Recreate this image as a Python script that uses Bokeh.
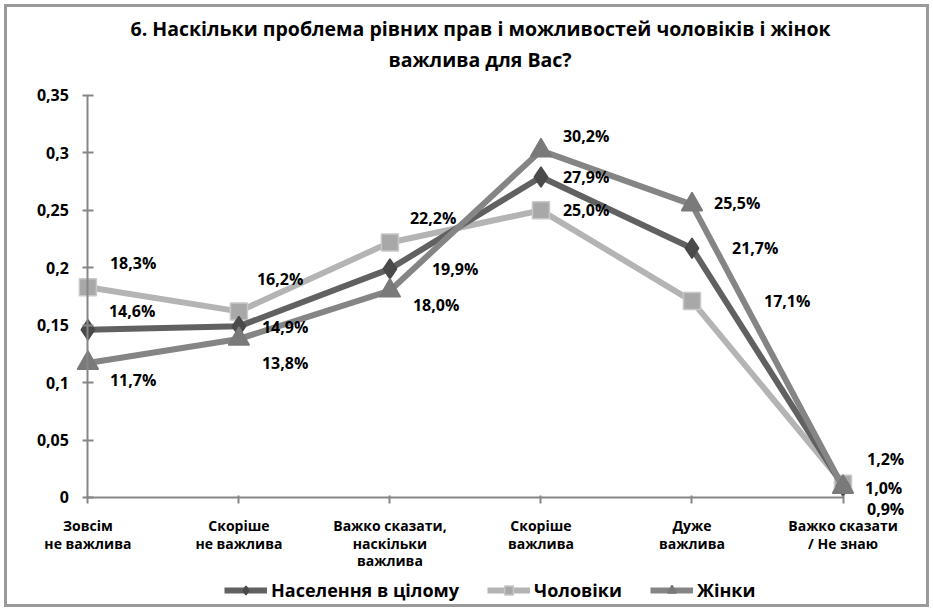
from bokeh.plotting import figure
from bokeh.models import ColumnDataSource, Legend, LegendItem, FixedTicker, Title, Range1d
from bokeh.core.properties import value
from bokeh.embed import file_html
from bokeh.resources import INLINE

# ---- data ----
categories = [
    "Зовсім\nне важлива",
    "Скоріше\nне важлива",
    "Важко сказати,\nнаскільки\nважлива",
    "Скоріше\nважлива",
    "Дуже\nважлива",
    "Важко сказати\n/ Не знаю",
]
population = [0.146, 0.149, 0.199, 0.279, 0.217, 0.010]
men = [0.183, 0.162, 0.222, 0.250, 0.171, 0.012]
women = [0.117, 0.138, 0.180, 0.302, 0.255, 0.009]
series_names = ["Населення в цілому", "Чоловіки", "Жінки"]
y_ticks = [0, 0.05, 0.1, 0.15, 0.2, 0.25, 0.3, 0.35]
y_tick_labels = ["0", "0,05", "0,1", "0,15", "0,2", "0,25", "0,3", "0,35"]
title_line1 = "6. Наскільки проблема рівних прав і можливостей чоловіків і жінок"
title_line2 = "важлива для Вас?"

# ---- label placement (screen px, right / down) ----
pop_dx = [21, 23, 42, 22, 40, 22]
pop_dy = [-19, 1, 0, 0, 0, 2]
men_dx = [22, 18, 20, 22, 72, 24]
men_dy = [-24, -32, -24, 0, 0, -25]
women_dx = [22, 23, 23, 22, 22, 24]
women_dy = [17, 24, 14, -15, -2, 22]

FONT = "Open Sans"

x_idx = list(range(len(categories)))

# the frame covers the whole drawing area; both axes sit at 0 inside it
p = figure(
    frame_width=885, frame_height=532,
    x_range=Range1d(-0.38, 5.48), y_range=Range1d(-0.0932, 0.37),
    output_backend="svg", toolbar_location=None,
    min_border_left=23, min_border_right=11, min_border_top=65, min_border_bottom=0,
)
p.styles = {"border": "3px solid #9a9a9a", "margin": "4px"}
p.outline_line_color = None
p.xgrid.visible = False
p.ygrid.visible = False
p.background_fill_color = "white"
p.border_fill_color = "white"

# titles (left aligned with offsets so both lines are centred at the same x)
t2 = Title(text=title_line2, align="left", text_font=FONT, text_font_size="19.5px",
           text_font_style="bold", text_color="black", standoff=0, offset=358)
t1 = Title(text=title_line1, align="left", text_font=FONT, text_font_size="19.5px",
           text_font_style="bold", text_color="black", standoff=4, offset=100)
p.add_layout(t2, "above")
p.add_layout(t1, "above")

# axes
xa = p.xaxis[0]
xa.fixed_location = 0
xa.ticker = FixedTicker(ticks=x_idx)
xa.major_label_overrides = {i: c for i, c in zip(x_idx, categories)}
xa.bounds = (0, 5)
xa.axis_line_color = "#868686"
xa.axis_line_width = 2
xa.major_tick_line_color = "#868686"
xa.major_tick_line_width = 2
xa.major_tick_in = 2
xa.major_tick_out = 6
xa.minor_tick_line_color = None
xa.major_label_standoff = 13
xa.major_label_text_font = FONT
xa.major_label_text_font_size = "14px"
xa.major_label_text_font_style = "bold"
xa.major_label_text_color = "black"
xa.major_label_text_align = "center"
xa.major_label_text_line_height = 0.9

ya = p.yaxis[0]
ya.fixed_location = 0
ya.ticker = FixedTicker(ticks=y_ticks)
ya.major_label_overrides = {t: l for t, l in zip(y_ticks, y_tick_labels)}
ya.bounds = (0, 0.35)
ya.axis_line_color = "#868686"
ya.axis_line_width = 2
ya.major_tick_line_color = "#868686"
ya.major_tick_line_width = 2
ya.major_tick_in = 6
ya.major_tick_out = 5
ya.minor_tick_line_color = None
ya.major_label_standoff = 14
ya.major_label_text_font = FONT
ya.major_label_text_font_size = "16px"
ya.major_label_text_font_style = "bold"
ya.major_label_text_color = "black"


def pct(v):
    return f"{v * 100:.1f}%".replace(".", ",")


specs = [
    # name, values, dx, dy, line color, marker, size, fill, outline
    (series_names[1], men, men_dx, men_dy, "#b4b4b4", "square", 17, "#a8a8a8", "#c8c8c8"),
    (series_names[0], population, pop_dx, pop_dy, "#616161", "diamond", 20, "#4a4a4a", "#4a4a4a"),
    (series_names[2], women, women_dx, women_dy, "#858585", "triangle", 21, "#7a7a7a", "#7a7a7a"),
]

items = {}
sources = []
for name, vals, dx, dy, lc, mk, sz, fc, oc in specs:
    src = ColumnDataSource(dict(
        x=x_idx, y=vals, lbl=[pct(v) for v in vals], dx=dx, dy=dy,
    ))
    sources.append(src)
    lr = p.line("x", "y", source=src, line_color=lc, line_width=6, line_join="round")
    sr = p.scatter("x", "y", source=src, marker=mk, size=sz, fill_color=fc,
                   line_color=oc, line_width=1.5)
    items[name] = LegendItem(label=name, renderers=[lr, sr])

for src in sources:
    p.text("x", "y", text="lbl", source=src, x_offset="dx", y_offset="dy",
           text_font=value(FONT), text_font_size="16px", text_font_style="bold",
           text_color="black", text_align="left", text_baseline="middle")

legend = Legend(
    items=[items[n] for n in series_names],
    orientation="horizontal", location=(194, 2),
    glyph_width=43, glyph_height=22, label_standoff=4, spacing=28,
    label_text_font=FONT, label_text_font_size="18px", label_text_font_style="bold",
    label_text_color="black", border_line_color=None, background_fill_alpha=0,
    padding=0, margin=0,
)
p.add_layout(legend, "center")

open("out.html", "w").write(file_html(p, INLINE))
